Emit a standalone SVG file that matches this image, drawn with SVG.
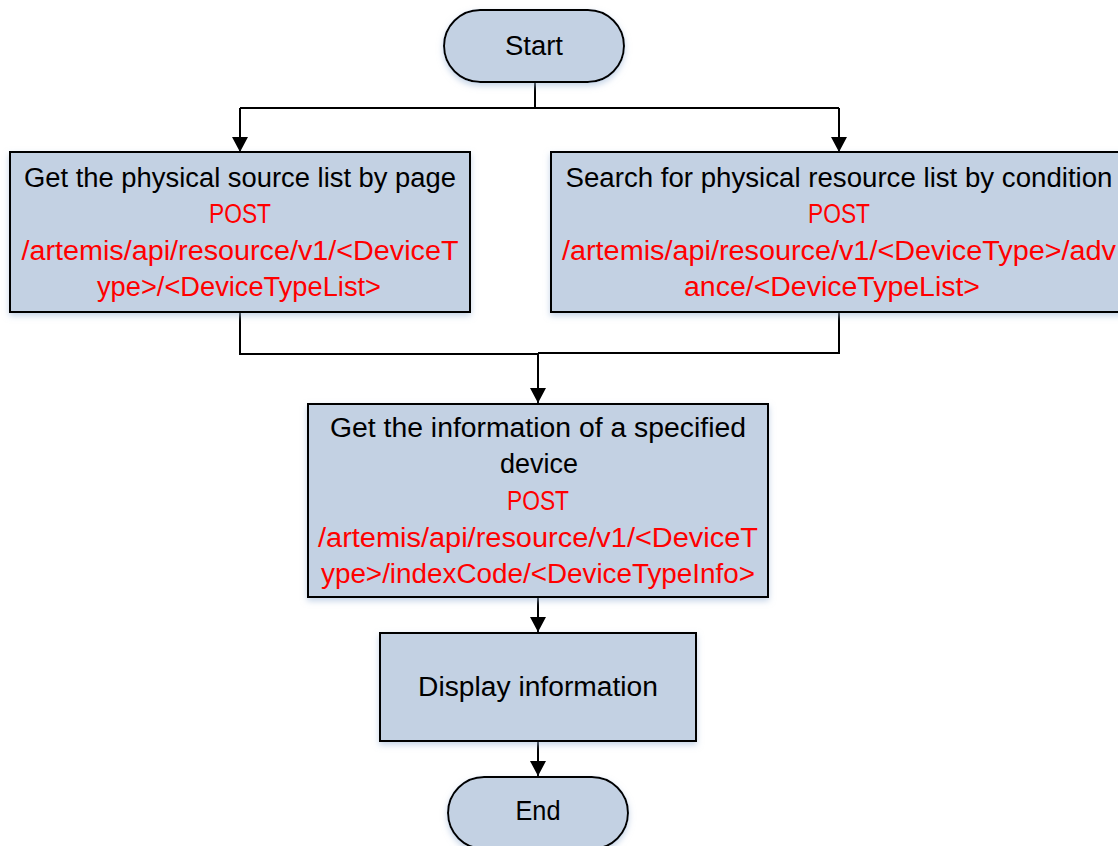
<svg xmlns="http://www.w3.org/2000/svg" width="1118" height="846" viewBox="0 0 1118 846">
<style>
.node{fill:#C3D1E3;stroke:#000;stroke-width:2;filter:url(#sh)}
.t{font-family:"Liberation Sans",Arial,sans-serif;font-size:27px;text-anchor:middle;fill:#000}
.r{fill:#FF0000}
.c{fill:none;stroke:#000;stroke-width:2}
</style>
<defs>
<filter id="sh" x="-10%" y="-10%" width="120%" height="130%">
<feDropShadow dx="0" dy="3" stdDeviation="3" flood-color="#9FB7D8" flood-opacity="0.6"/>
</filter>
<marker id="ah" markerWidth="16" markerHeight="16" refX="15" refY="8" orient="auto" markerUnits="userSpaceOnUse">
<path d="M0,0 L15,8 L0,16 Z" fill="#000"/>
</marker>
</defs>
<g id="connectors">
<path class="c" d="M535,82 V108"/>
<path class="c" d="M240,108 H839"/>
<path class="c" d="M240,108 V152" marker-end="url(#ah)"/>
<path class="c" d="M839,108 V152" marker-end="url(#ah)"/>
<path class="c" d="M240,312 V354 H538"/>
<path class="c" d="M839,312 V353 H538"/>
<path class="c" d="M538,353 V403" marker-end="url(#ah)"/>
<path class="c" d="M538,597 V632" marker-end="url(#ah)"/>
<path class="c" d="M538,741 V776" marker-end="url(#ah)"/>
</g>
<g id="start">
<rect class="node" x="444" y="10" width="180" height="72" rx="36" ry="36"/>
<text class="t" x="534" y="55" textLength="58" lengthAdjust="spacingAndGlyphs">Start</text>
</g>
<g id="box1">
<rect class="node" x="10" y="152" width="460" height="160"/>
<text class="t" x="240" y="187" textLength="432" lengthAdjust="spacingAndGlyphs">Get the physical source list by page</text>
<text class="t r" x="240" y="223" textLength="62" lengthAdjust="spacingAndGlyphs">POST</text>
<text class="t r" x="240" y="260" textLength="437" lengthAdjust="spacingAndGlyphs">/artemis/api/resource/v1/&lt;DeviceT</text>
<text class="t r" x="239" y="296" textLength="284" lengthAdjust="spacingAndGlyphs">ype&gt;/&lt;DeviceTypeList&gt;</text>
</g>
<g id="box2">
<rect class="node" x="551" y="152" width="576" height="160"/>
<text class="t" x="839" y="187" textLength="547" lengthAdjust="spacingAndGlyphs">Search for physical resource list by condition</text>
<text class="t r" x="839" y="223" textLength="62" lengthAdjust="spacingAndGlyphs">POST</text>
<text class="t r" x="839" y="260" textLength="554" lengthAdjust="spacingAndGlyphs">/artemis/api/resource/v1/&lt;DeviceType&gt;/adv</text>
<text class="t r" x="832" y="296" textLength="296" lengthAdjust="spacingAndGlyphs">ance/&lt;DeviceTypeList&gt;</text>
</g>
<g id="box3">
<rect class="node" x="308" y="404" width="460" height="193"/>
<text class="t" x="538" y="437" textLength="416" lengthAdjust="spacingAndGlyphs">Get the information of a specified</text>
<text class="t" x="539" y="473" textLength="78" lengthAdjust="spacingAndGlyphs">device</text>
<text class="t r" x="538" y="510" textLength="62" lengthAdjust="spacingAndGlyphs">POST</text>
<text class="t r" x="538" y="547" textLength="440" lengthAdjust="spacingAndGlyphs">/artemis/api/resource/v1/&lt;DeviceT</text>
<text class="t r" x="538" y="583" textLength="434" lengthAdjust="spacingAndGlyphs">ype&gt;/indexCode/&lt;DeviceTypeInfo&gt;</text>
</g>
<g id="display">
<rect class="node" x="380" y="633" width="316" height="108"/>
<text class="t" x="538" y="696" textLength="240" lengthAdjust="spacingAndGlyphs">Display information</text>
</g>
<g id="end">
<rect class="node" x="448" y="777" width="180" height="72" rx="36" ry="36"/>
<text class="t" x="538" y="820" textLength="45" lengthAdjust="spacingAndGlyphs">End</text>
</g>
</svg>
